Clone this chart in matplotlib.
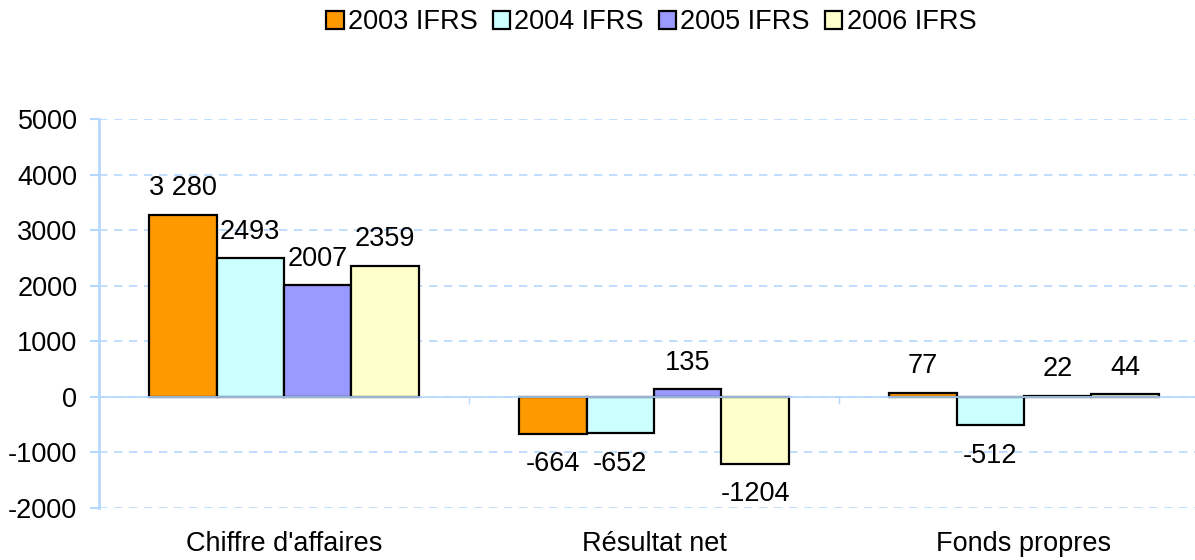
import numpy as np
import matplotlib
matplotlib.use("Agg")
import matplotlib.pyplot as plt

plt.rcParams['font.family'] = ['Liberation Sans', 'DejaVu Sans']
plt.rcParams['axes.unicode_minus'] = False

# --- Data
categories = ["Chiffre d'affaires", "Résultat net", "Fonds propres"]
series = ["2003 IFRS", "2004 IFRS", "2005 IFRS", "2006 IFRS"]
v2003 = [3280, -664, 77]
v2004 = [2493, -652, -512]
v2005 = [2007, 135, 22]
v2006 = [2359, -1204, 44]
labels2003 = ["3 280", "-664", "77"]
labels2004 = ["2493", "-652", "-512"]
labels2005 = ["2007", "135", "22"]
labels2006 = ["2359", "-1204", "44"]
colors = ["#FF9900", "#CCFFFF", "#9999FF", "#FFFFCC"]

values = [v2003, v2004, v2005, v2006]
labels = [labels2003, labels2004, labels2005, labels2006]

grid_col = "#B5D8FF"
fs = 19.5

fig = plt.figure(figsize=(11.95, 5.6), dpi=100)
ax = fig.add_axes([99 / 1195, 1 - 508 / 560, 1110 / 1195, 389 / 560])

x = np.arange(len(categories))
w = 0.1824
handles = []
for i, (vals, labs, c, name) in enumerate(zip(values, labels, colors, series)):
    pos = x + (i - 1.5) * w
    bars = ax.bar(pos, vals, width=w, color=c, edgecolor='black',
                  linewidth=1.6, label=name, zorder=3)
    handles.append(bars)
    for p, v, lab in zip(pos, vals, labs):
        off = 19 if v >= 0 else -22
        ax.annotate(lab, (p, v), xytext=(0, off), textcoords='offset points',
                    ha='center', va='center', fontsize=fs, zorder=4)

ax.set_xlim(-0.5, 2.5)
ax.set_ylim(-2000, 5000)
ax.set_yticks(np.arange(-2000, 5001, 1000))
ax.tick_params(axis='y', labelsize=fs, length=6.5, width=1.5, color=grid_col, pad=9)
ax.yaxis.grid(True, linestyle=(0, (5, 4)), color=grid_col, linewidth=1.2, zorder=0)

# x axis crosses at zero with ticks at category boundaries
ax.set_xticks([])
ax.set_xticks([0.5, 1.5], minor=True)
ax.tick_params(axis='x', which='minor', length=5, width=1, color=grid_col, direction='out')
ax.spines['bottom'].set_position(('data', 0))
ax.spines['bottom'].set_color(grid_col)
ax.spines['bottom'].set_linewidth(1.2)
ax.spines['bottom'].set_zorder(5)
ax.spines['left'].set_color(grid_col)
ax.spines['left'].set_linewidth(2)
ax.spines['top'].set_visible(False)
ax.spines['right'].set_visible(False)

for xi, cat in zip(x, categories):
    ax.text(xi, -0.092, cat, transform=ax.get_xaxis_transform(),
            ha='center', va='center', fontsize=fs)

fig.legend(handles=handles, labels=series, loc='center', bbox_to_anchor=(0.545, 0.96),
           ncol=4, frameon=False, fontsize=fs, handlelength=0.65, handleheight=0.65,
           handletextpad=0.15, columnspacing=0.55)

plt.savefig("out.png", dpi=100)
